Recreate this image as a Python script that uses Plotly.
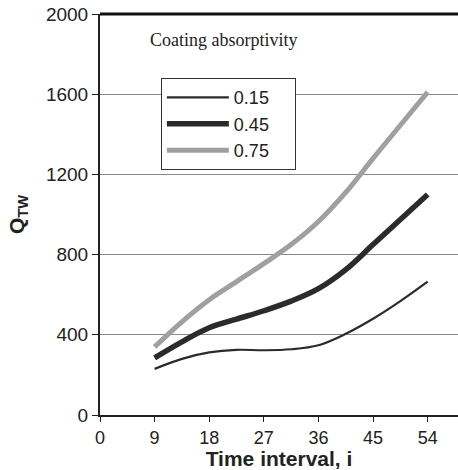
import plotly.graph_objects as go

x_vals = [9, 13.5, 18, 22.5, 27, 31.5, 36, 40.5, 45, 49.5, 54]
q_015 = [230, 280, 312, 325, 323, 328, 348, 405, 480, 568, 665]
q_045 = [285, 365, 435, 478, 520, 568, 630, 725, 850, 975, 1100]
q_075 = [340, 465, 575, 665, 755, 850, 965, 1110, 1280, 1445, 1610]
series_names = ["0.15", "0.45", "0.75"]
x_ticks = [0, 9, 18, 27, 36, 45, 54]
y_ticks = [0, 400, 800, 1200, 1600, 2000]

fig = go.Figure()
styles = [("#2b2b2b", 2.2), ("#2b2b2b", 5.5), ("#a0a0a0", 5)]
for name, ys, (c, w) in zip(series_names, [q_015, q_045, q_075], styles):
    fig.add_trace(go.Scatter(x=x_vals, y=ys, mode="lines", name=name + "\u00a0" * 4,
                             line=dict(color=c, width=w, shape="spline", smoothing=1.0)))

fig.update_layout(
    width=458, height=470,
    margin=dict(l=100, r=0, t=14, b=55),
    plot_bgcolor="white", paper_bgcolor="white",
    font=dict(family="Arial, Liberation Sans", color="#222", size=18),
    legend=dict(x=0.17, y=0.84, xanchor="left", yanchor="top",
                bgcolor="white", bordercolor="#333", borderwidth=1,
                font=dict(size=18), tracegroupgap=0, itemwidth=62),
    annotations=[dict(text="Coating absorptivity", x=0.135, y=0.935, xref="paper", yref="paper",
                      xanchor="left", yanchor="middle", showarrow=False,
                      font=dict(family="Liberation Serif, Times New Roman", size=18, color="#222"))],
    shapes=[dict(type="line", xref="paper", yref="paper", x0=0, x1=1, y0=1, y1=1,
                 line=dict(color="#111", width=3))],
)
fig.update_xaxes(range=[0, 59], tickvals=x_ticks, showgrid=False, zeroline=False,
                 showline=True, linecolor="#222", linewidth=2,
                 ticks="outside", ticklen=5, tickcolor="#222", ticklabelstandoff=0,
                 title=dict(text="<b>Time interval, i</b>", font=dict(size=21), standoff=2))
fig.update_yaxes(range=[0, 2000], tickvals=y_ticks, showgrid=True, gridcolor="#888", gridwidth=1,
                 zeroline=False, showline=True, linecolor="#222", linewidth=2,
                 ticks="outside", ticklen=6, tickcolor="#222", tickfont=dict(size=19),
                 title=dict(text="<b>Q<sub>TW</sub></b>", font=dict(size=21), standoff=16))

fig.write_html("out.html")
